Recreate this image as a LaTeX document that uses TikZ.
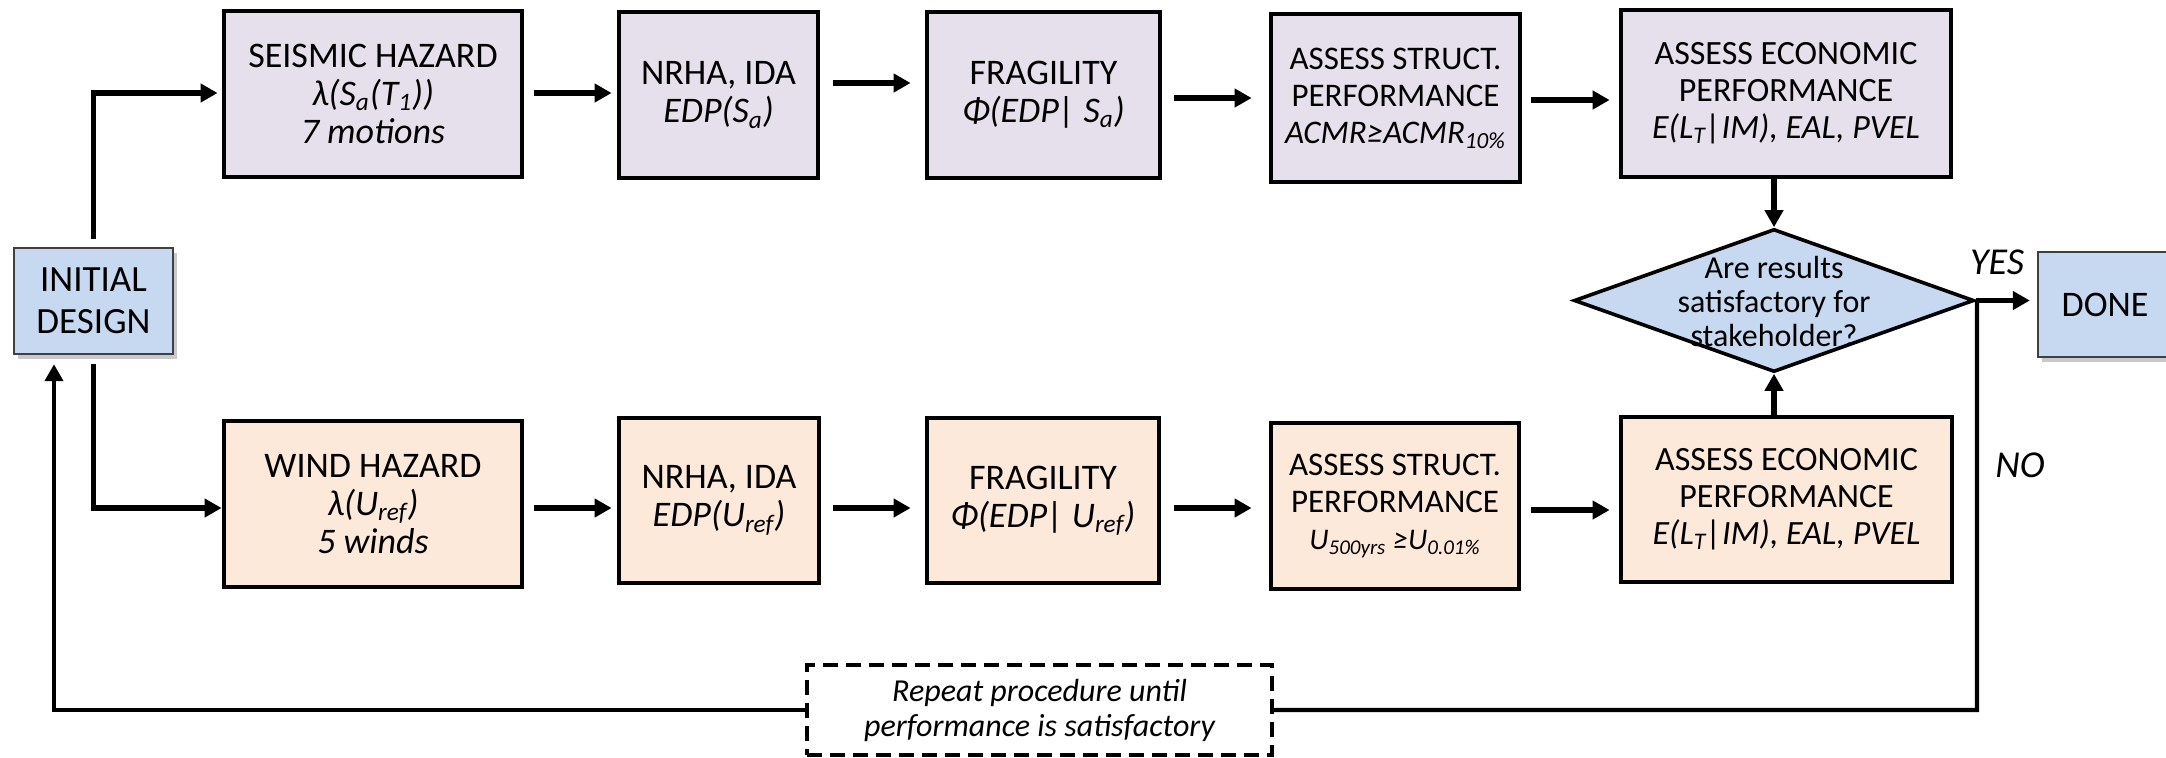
\documentclass[tikz,border=0pt]{standalone}
\usepackage{fontspec}
\setmainfont{Carlito}
\usetikzlibrary{arrows.meta,shapes.geometric,shadows}
\definecolor{lav}{HTML}{E6E0EC}
\definecolor{peach}{HTML}{FDE9D9}
\definecolor{lblue}{HTML}{C6D9F1}
\newcommand{\bigf}{\fontsize{18}{19}\selectfont}
\newcommand{\midf}{\fontsize{16.5}{18.5}\selectfont}
\newcommand{\sub}[1]{\textsubscript{#1}}
\begin{document}
\begin{tikzpicture}[x=0.5pt,y=-0.5pt,
  sbox/.style={draw=black, line width=2.4pt, fill=lav, align=center, inner sep=0pt, font=\bigf},
  wbox/.style={draw=black, line width=2.4pt, fill=peach, align=center, inner sep=0pt, font=\bigf},
  bbox/.style={draw=black!75, line width=1.2pt, fill=lblue, align=center, inner sep=0pt,
    drop shadow={shadow xshift=2pt, shadow yshift=-2.5pt, opacity=0.3, fill=black!70}},
  arr/.style={line width=2.8pt, -{Triangle[length=8.5pt,width=9pt]}, shorten <=5pt, shorten >=2.5pt},
  fb/.style={line width=2.2pt},
  lab/.style={font=\fontsize{19}{20}\selectfont\itshape, inner sep=0pt}]
\useasboundingbox (0,0) rectangle (2166,757);

% nodes
\node[bbox, minimum width=79.5pt, minimum height=53pt, font=\fontsize{18.5}{21}\selectfont] (init) at (93.5,301) {INITIAL\\DESIGN};

\node[sbox, minimum width=149pt, minimum height=83pt] (seis) at (373,94)
  {SEISMIC HAZARD\\\textit{λ(S\sub{a}(T\sub{1}))}\\\textit{7 motions}};
\node[sbox, minimum width=99.5pt, minimum height=83pt] (nrha) at (718.5,95)
  {NRHA, IDA\\\textit{EDP(S\sub{a})}};
\node[sbox, minimum width=116.5pt, minimum height=83pt] (frag) at (1043.5,95)
  {FRAGILITY\\\textit{Φ(EDP| S\sub{a})}};
\node[sbox, minimum width=124.5pt, minimum height=84pt, font=\midf] (sstr) at (1395.5,98)
  {ASSESS STRUCT.\\PERFORMANCE\\\textit{ACMR≥ACMR\sub{10\%}}};
\node[sbox, minimum width=165pt, minimum height=83.5pt, font=\fontsize{17}{18.5}\selectfont] (secon) at (1786,93.5)
  {ASSESS ECONOMIC\\PERFORMANCE\\\textit{E(L\sub{T}|IM), EAL, PVEL}};

\node[wbox, minimum width=149pt, minimum height=83pt] (wind) at (373,504)
  {WIND HAZARD\\\textit{λ(U\sub{ref})}\\\textit{5 winds}};
\node[wbox, minimum width=100pt, minimum height=82.5pt] (wnrha) at (719,500.5)
  {NRHA, IDA\\\textit{EDP(U\sub{ref})}};
\node[wbox, minimum width=116pt, minimum height=82.5pt] (wfrag) at (1043,500.5)
  {FRAGILITY\\\textit{Φ(EDP| U\sub{ref})}};
\node[wbox, minimum width=124pt, minimum height=83pt, font=\midf] (wstr) at (1395,506)
  {ASSESS STRUCT.\\PERFORMANCE\\{\fontsize{15}{18}\selectfont\itshape U\sub{500yrs} ≥U\sub{0.01\%}}};
\node[wbox, minimum width=165.5pt, minimum height=82.5pt, font=\fontsize{17}{18.5}\selectfont] (wecon) at (1786.5,499.5)
  {ASSESS ECONOMIC\\PERFORMANCE\\\textit{E(L\sub{T}|IM), EAL, PVEL}};

\node[diamond, draw=black, line width=1.8pt, fill=lblue, minimum width=200pt, minimum height=71.5pt, inner sep=0pt] (dia) at (1774,300.5) {};
\node[align=center, inner sep=0pt, font=\fontsize{16}{17}\selectfont] (diat) at (1774,301) {Are results\\satisfactory for\\stakeholder?};

\node[bbox, minimum width=67pt, minimum height=52.5pt, font=\bigf] (done) at (2105,304.5) {DONE};

\node[draw=black, line width=2.2pt, dash pattern=on 7.5pt off 4pt, fill=white, minimum width=232.5pt, minimum height=45pt,
  align=center, inner sep=0pt, font=\fontsize{16}{17.5}\selectfont\itshape] (rep) at (1039.5,710)
  {Repeat procedure until\\performance is satisfactory};

\node[lab] (yes) at (1997,262) {YES};
\node[lab] (no) at (2020,465) {NO};

% connectors, seismic row
\draw[arr, shorten <=4pt, shorten >=2pt] (init.north) -- (init.north |- 0,93) -- (seis.west |- 0,93);
\draw[arr] (seis.east |- 0,93) -- (nrha.west |- 0,93);
\draw[arr, shorten <=6.5pt, shorten >=7pt] (nrha.east |- 0,83) -- (frag.west |- 0,83);
\draw[arr, shorten <=6pt, shorten >=8.5pt] (frag.east |- 0,98) -- (sstr.west |- 0,98);
\draw[arr, shorten <=4.5pt, shorten >=4.5pt] (sstr.east |- 0,100) -- (secon.west |- 0,100);
\draw[arr, shorten <=0pt, shorten >=0pt] (secon.south -| dia.north) -- (dia.north);

% wind row
\draw[arr, shorten <=4.5pt, shorten >=0pt] (init.south) -- (init.south |- 0,508) -- (wind.west |- 0,508);
\draw[arr] (wind.east |- 0,508) -- (wnrha.west |- 0,508);
\draw[arr, shorten <=6pt, shorten >=7pt] (wnrha.east |- 0,508) -- (wfrag.west |- 0,508);
\draw[arr, shorten <=6.5pt, shorten >=8.5pt] (wfrag.east |- 0,508) -- (wstr.west |- 0,508);
\draw[arr, shorten <=5pt, shorten >=4.5pt] (wstr.east |- 0,510) -- (wecon.west |- 0,510);
\draw[arr, shorten <=0pt, shorten >=0pt] (wecon.north -| dia.south) -- (dia.south);

% decision
\coordinate (junc) at (1977,301);
\coordinate (nocorner) at (1977,710);
\coordinate (fbl) at (54,710);
\draw[arr, shorten <=0pt, shorten >=3.5pt] (dia.east) -- (done.west |- dia.east);
\draw[fb] (dia.east) -- (junc) -- (nocorner) -- (rep.east);
\draw[arr, line width=2.2pt, shorten <=0pt, shorten >=4.5pt] (rep.west) -- (fbl) -- (fbl |- init.south);
\end{tikzpicture}
\end{document}
